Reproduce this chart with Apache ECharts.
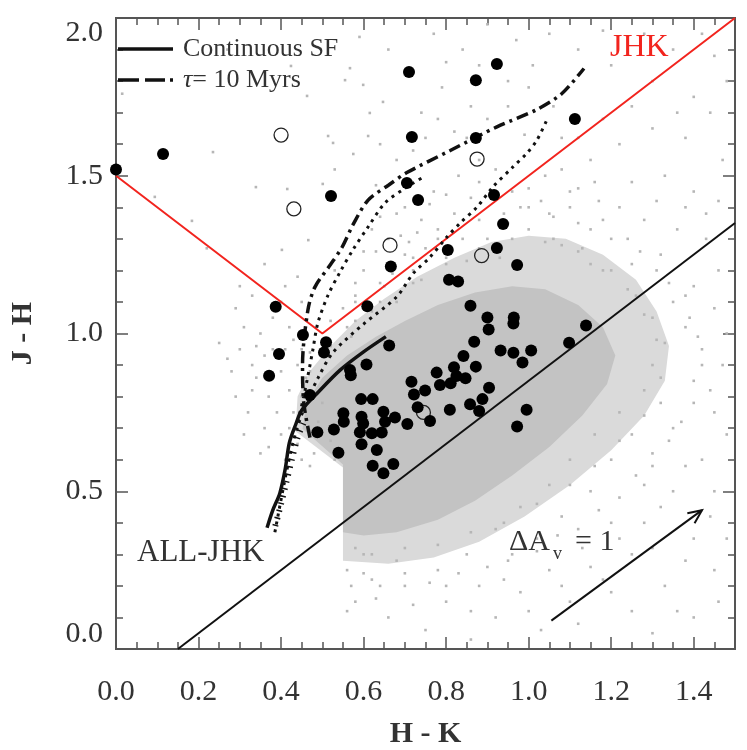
<!DOCTYPE html>
<html>
<head>
<meta charset="utf-8">
<title>J - H vs H - K</title>
<script src="https://cdn.jsdelivr.net/npm/echarts@6/dist/echarts.min.js"></script>
<style>
  html, body { margin: 0; padding: 0; background: #ffffff; }
  #chart { width: 747px; height: 750px; }
</style>
</head>
<body>
<div id="chart"></div>
<script>
// ---- data (H-K, J-H) ----

// tick labels
const xTickLabels = ['0.0', '0.2', '0.4', '0.6', '0.8', '1.0', '1.2', '1.4'];
const yTickLabels = ['0.0', '0.5', '1.0', '1.5', '2.0'];

// filled circles
const filledStars = [
  [0.0, 1.52], [0.114, 1.569], [0.521, 1.436], [0.71, 1.829], [0.923, 1.854], [0.872, 1.803],
  [1.112, 1.68], [0.717, 1.623], [0.872, 1.62], [0.705, 1.477], [0.732, 1.423], [0.916, 1.439],
  [0.938, 1.347], [0.804, 1.265], [0.923, 1.271], [0.972, 1.217], [0.666, 1.212], [0.609, 1.086],
  [0.807, 1.17], [0.829, 1.165], [0.859, 1.088], [0.9, 1.051], [0.964, 1.051], [0.963, 1.032],
  [0.903, 1.013], [1.139, 1.025], [1.098, 0.971], [0.387, 1.085], [0.395, 0.935], [0.371, 0.866],
  [0.453, 0.995], [0.509, 0.972], [0.504, 0.94], [0.662, 0.962], [0.607, 0.902], [0.567, 0.884],
  [0.569, 0.868], [0.47, 0.805], [0.594, 0.792], [0.622, 0.792], [0.551, 0.747], [0.552, 0.72],
  [0.595, 0.736], [0.599, 0.715], [0.648, 0.752], [0.652, 0.72], [0.676, 0.734], [0.488, 0.687],
  [0.528, 0.696], [0.591, 0.687], [0.62, 0.684], [0.644, 0.686], [0.706, 0.713], [0.595, 0.649],
  [0.539, 0.622], [0.632, 0.631], [0.622, 0.581], [0.672, 0.586], [0.648, 0.557], [0.716, 0.847],
  [0.722, 0.807], [0.749, 0.819], [0.731, 0.766], [0.761, 0.723], [0.777, 0.876], [0.785, 0.837],
  [0.819, 0.893], [0.842, 0.929], [0.811, 0.842], [0.825, 0.865], [0.847, 0.858], [0.872, 0.895],
  [0.868, 0.974], [0.932, 0.946], [0.963, 0.939], [1.006, 0.946], [0.985, 0.908], [0.904, 0.828],
  [0.888, 0.792], [0.858, 0.776], [0.88, 0.754], [0.809, 0.758], [0.995, 0.758], [0.972, 0.705]
];

// open circles
const openStars = [
  [0.4, 1.629], [0.431, 1.395], [0.875, 1.553], [0.664, 1.28], [0.886, 1.247], [0.745, 0.75]
];

// field stars: outline of the solid core of the cloud, of its speckled rim, and the scattered outliers
const fieldCore = [
  [0.55, 0.37], [0.55, 0.585], [0.452, 0.698], [0.462, 0.78], [0.5, 0.86], [0.56, 0.93],
  [0.63, 0.99], [0.7, 1.04], [0.78, 1.09], [0.87, 1.13], [0.96, 1.15], [1.04, 1.14],
  [1.12, 1.09], [1.18, 1.02], [1.21, 0.93], [1.19, 0.84], [1.13, 0.74], [1.05, 0.64],
  [0.96, 0.55], [0.87, 0.47], [0.78, 0.41], [0.68, 0.37], [0.6, 0.36]
];
const fieldRim = [
  [0.55, 0.28], [0.55, 0.575], [0.435, 0.69], [0.44, 0.8], [0.47, 0.88], [0.52, 0.96],
  [0.58, 1.04], [0.65, 1.11], [0.73, 1.18], [0.82, 1.24], [0.91, 1.29], [1.0, 1.31],
  [1.09, 1.3], [1.18, 1.25], [1.26, 1.17], [1.31, 1.07], [1.34, 0.96], [1.33, 0.85],
  [1.28, 0.74], [1.2, 0.63], [1.1, 0.52], [0.99, 0.42], [0.88, 0.34], [0.77, 0.29],
  [0.66, 0.27]
];
const fieldSparse = [
  // above the red boundary, left
  [0.015, 1.76], [0.235, 1.575], [0.184, 1.357], [0.094, 1.433], [0.339, 1.464], [0.415, 1.458],
  [0.463, 1.753], [0.424, 1.848], [0.402, 1.265], [0.466, 1.296], [0.27, 1.9], [0.36, 1.22],
  [0.3, 1.15], [0.44, 1.18], [0.22, 1.27],
  // inside the V, top
  [0.514, 1.626], [0.526, 1.604], [0.567, 1.841], [0.615, 1.699], [0.611, 1.626], [0.575, 1.569],
  [0.501, 1.474], [0.555, 1.803], [0.599, 1.788], [0.647, 1.734], [0.66, 1.9], [0.68, 1.55],
  [0.74, 1.7], [0.77, 1.95], [0.79, 1.78], [0.82, 1.64], [0.84, 1.9], [0.86, 1.72],
  [0.95, 1.8], [0.97, 1.93], [0.99, 1.63], [1.01, 1.85], [1.05, 1.95], [1.08, 1.62],
  [1.12, 1.9], [1.18, 1.96], [0.75, 1.62], [0.9, 1.98], [0.63, 1.47], [0.7, 1.82],
  [0.53, 1.52], [0.59, 1.94], [0.64, 1.6], [0.72, 1.58], [0.78, 1.68], [0.85, 1.62],
  [0.9, 1.68], [0.95, 1.72], [1.0, 1.78], [1.06, 1.72], [0.88, 1.85], [0.8, 1.86],
  // between the tracks and the red right arm
  [0.62, 1.33], [0.68, 1.38], [0.7, 1.25], [0.73, 1.32], [0.76, 1.41], [0.78, 1.3],
  [0.82, 1.38], [0.6, 1.2], [0.65, 1.15], [0.72, 1.2], [0.58, 1.1], [0.77, 1.45],
  [0.56, 1.02], [0.63, 1.26], [0.69, 1.31], [0.75, 1.27], [0.53, 1.2], [0.55, 1.08],
  [0.6, 1.26], [0.64, 1.37], [0.66, 1.3], [0.7, 1.4], [0.74, 1.36], [0.8, 1.44],
  [0.83, 1.5], [0.86, 1.43], [0.88, 1.55], [0.58, 1.16], [0.67, 1.19], [0.71, 1.29],
  // right of the red arm
  [1.2, 1.85], [1.25, 1.72], [1.3, 1.8], [1.35, 1.9], [1.4, 1.75], [1.45, 1.88],
  [1.15, 1.55], [1.22, 1.6], [1.3, 1.65], [1.38, 1.62], [1.44, 1.7], [1.47, 1.55],
  [1.1, 1.45], [1.17, 1.42], [1.25, 1.48], [1.33, 1.5], [1.4, 1.45], [1.46, 1.42],
  [1.05, 1.38], [1.12, 1.35], [1.2, 1.3], [1.28, 1.36], [1.36, 1.33], [1.43, 1.3],
  [1.0, 1.33], [1.08, 1.28], [1.15, 1.22], [1.25, 1.22], [1.32, 1.25], [0.98, 1.4],
  [1.04, 1.5], [1.18, 1.68], [1.28, 1.95], [1.42, 1.95], [1.36, 1.7], [1.12, 1.62],
  [1.48, 1.8], [0.95, 1.35], [1.03, 1.42], [1.22, 1.4], [1.16, 1.48], [1.08, 1.52],
  [1.12, 1.46], [1.0, 1.46], [0.96, 1.45], [0.92, 1.52], [0.88, 1.48], [1.31, 1.42],
  [1.38, 1.4], [1.43, 1.38], [1.46, 1.2], [1.48, 1.0],
  // edge of the cloud
  [0.5, 0.98], [0.52, 1.04], [0.58, 1.12], [0.64, 1.16], [0.66, 1.22], [0.72, 1.24],
  [0.78, 1.33], [0.84, 1.3], [0.88, 1.36], [0.94, 1.38], [1.0, 1.4], [1.06, 1.37],
  [1.1, 1.4], [1.15, 1.33], [1.18, 1.36], [1.24, 1.3], [1.27, 1.26], [1.31, 1.2],
  [1.34, 1.16], [1.38, 1.12], [1.39, 1.05], [1.41, 0.99], [1.42, 0.9], [1.44, 0.82],
  [1.4, 0.78], [1.37, 0.72], [1.34, 0.66], [1.3, 0.58], [1.26, 0.55], [1.22, 0.48],
  [1.17, 0.44], [1.12, 0.38], [1.07, 0.36], [1.02, 0.31], [0.96, 0.3], [0.9, 0.26],
  [0.83, 0.24], [0.76, 0.21], [0.7, 0.24], [0.64, 0.2], [0.6, 0.24], [0.57, 0.2],
  [0.9, 1.3], [0.93, 1.24], [0.85, 1.23], [0.8, 1.24], [0.74, 1.17], [0.68, 1.1],
  [0.62, 1.07], [0.57, 0.99], [1.06, 1.3], [1.13, 1.27], [1.2, 1.2], [1.26, 1.12],
  [1.3, 1.05], [1.33, 0.97], [1.3, 0.9], [1.35, 1.1], [1.4, 1.15], [1.38, 1.02],
  [1.42, 0.95], [1.45, 1.08], [1.28, 0.82], [1.22, 0.75], [1.32, 0.78], [1.4, 0.85],
  [1.47, 0.9], [1.16, 0.68], [1.25, 0.68], [1.35, 0.7], [1.1, 0.6], [1.2, 0.6],
  [1.3, 0.62], [1.45, 0.75], [1.05, 0.52], [1.15, 0.5], [1.28, 0.52], [1.38, 0.58],
  [0.58, 0.32], [0.62, 0.3], [0.7, 0.32], [0.78, 0.33], [0.86, 0.37], [0.94, 0.4],
  [1.02, 0.46], [1.1, 0.52], [1.16, 0.58], [1.22, 0.66], [1.28, 0.74], [1.32, 0.86],
  [1.31, 0.98], [1.28, 1.06], [1.24, 1.14], [1.18, 1.2], [1.12, 1.26], [1.04, 1.29],
  [0.96, 1.3], [0.88, 1.27], [0.8, 1.22], [0.72, 1.16], [0.64, 1.1], [0.58, 1.04],
  [0.52, 0.96], [0.47, 0.88], [0.45, 0.8],
  // below the cloud
  [0.98, 0.45], [1.08, 0.42], [1.2, 0.4], [1.32, 0.45], [1.45, 0.5], [0.92, 0.38],
  [1.02, 0.35], [1.13, 0.32], [1.25, 0.3], [1.4, 0.35], [0.85, 0.3], [0.95, 0.28],
  [1.05, 0.25], [1.18, 0.22], [1.33, 0.2], [1.45, 0.25], [0.78, 0.25], [0.88, 0.2],
  [0.98, 0.18], [1.1, 0.15], [1.25, 0.12], [1.4, 0.1], [0.7, 0.2], [0.8, 0.15],
  [0.92, 0.1], [1.03, 0.06], [1.3, 0.05], [1.46, 0.15], [0.62, 0.22], [0.58, 0.15],
  [0.66, 0.1], [0.75, 0.06], [0.86, 0.03], [0.6, 0.3], [0.68, 0.28], [0.56, 0.25],
  [0.56, 0.12], [0.63, 0.16], [0.72, 0.14], [0.8, 0.2], [0.86, 0.12], [0.94, 0.22],
  [1.0, 0.12], [1.08, 0.2], [1.15, 0.26], [1.22, 0.35], [1.28, 0.4], [1.35, 0.5],
  [1.42, 0.6], [1.48, 0.68], [1.44, 0.42], [1.38, 0.28], [1.3, 0.32], [1.2, 0.18],
  [1.12, 0.08], [1.36, 0.12], [1.48, 0.35],
  // left of the continuous SF track
  [0.3, 0.95], [0.33, 0.9], [0.35, 1.0], [0.38, 0.95], [0.4, 0.88], [0.42, 0.82],
  [0.37, 0.8], [0.33, 0.82], [0.42, 1.02], [0.44, 0.9], [0.46, 0.86], [0.39, 0.75],
  [0.43, 0.75], [0.36, 0.7], [0.4, 0.68], [0.28, 0.88], [0.32, 0.75], [0.45, 1.1],
  [0.41, 1.15], [0.47, 0.94], [0.25, 0.97], [0.35, 0.62], [0.31, 0.68], [0.38, 1.05],
  [0.44, 0.65], [0.5, 0.78], [0.49, 0.72], [0.52, 0.66], [0.48, 0.62], [0.53, 0.6],
  [0.27, 0.92], [0.29, 0.8], [0.31, 1.02], [0.34, 0.86], [0.36, 0.93], [0.37, 0.64],
  [0.38, 0.86], [0.41, 0.95], [0.43, 0.98], [0.34, 0.96], [0.29, 1.08], [0.33, 1.12],
  [0.4, 1.1], [0.45, 0.95], [0.42, 0.7], [0.41, 0.6], [0.45, 0.6], [0.47, 0.58]
];

// JHK excess boundary (red) and the ALL-JHK reddening line
const jhkBoundary = [[0.0, 1.5], [0.5, 1.0], [1.5, 2.0]];
const allJhkLine = [[0.15, 0.0], [1.5, 1.35]];

// model tracks
const continuousSF = [
  [0.366, 0.384], [0.38, 0.44], [0.397, 0.494], [0.41, 0.57], [0.42, 0.653], [0.435, 0.71],
  [0.45, 0.757], [0.487, 0.81], [0.543, 0.884], [0.599, 0.941], [0.654, 0.99]
];
const continuousSFHatch = [
  [0.386, 0.39], [0.4, 0.46], [0.413, 0.53], [0.426, 0.6], [0.44, 0.67], [0.456, 0.72]
];
const tau10Myr = [
  [0.47, 0.67], [0.455, 0.78], [0.452, 0.9], [0.465, 1.074], [0.482, 1.147], [0.519, 1.217],
  [0.548, 1.274], [0.574, 1.344], [0.611, 1.423], [0.66, 1.47], [0.705, 1.51], [0.81, 1.58],
  [0.923, 1.655], [1.02, 1.71], [1.08, 1.76], [1.134, 1.84]
];
const dottedTrackA = [
  [0.44, 0.72], [0.455, 0.8], [0.477, 0.948], [0.489, 1.033], [0.514, 1.122], [0.543, 1.195],
  [0.574, 1.265], [0.611, 1.338], [0.652, 1.414], [0.7, 1.46], [0.75, 1.5]
];
const dottedTrackB = [
  [0.385, 0.37], [0.398, 0.46], [0.413, 0.56], [0.43, 0.66], [0.455, 0.76], [0.49, 0.86],
  [0.526, 0.94], [0.6, 1.03], [0.68, 1.116], [0.72, 1.19], [0.761, 1.242], [0.802, 1.306],
  [0.834, 1.35], [0.875, 1.401], [0.913, 1.464], [0.962, 1.528], [0.996, 1.572], [1.02, 1.613],
  [1.044, 1.677]
];

// extinction vector, Delta Av = 1
const avArrowHK = [1.055, 1.42];
const avArrowJH = [0.09, 0.44];

// ---- styling ----
const SERIF = '"Liberation Serif", "DejaVu Serif", serif';
const FRAME = '#555555';
const TEXT = '#333333';
const RED = '#f2241e';

function xAxisDef(position, interval, tickLen, withLabels) {
    const axis = {
        type: 'value', min: 0, max: 1.5, interval: interval, position: position,
        axisLine: { show: true, onZero: false, lineStyle: { color: FRAME, width: 2 } },
        axisTick: { show: true, inside: true, length: tickLen, lineStyle: { color: FRAME, width: 1.5 } },
        axisLabel: { show: false },
        splitLine: { show: false }
    };
    if (withLabels) {
        axis.axisLabel = {
            show: true, margin: 28, color: TEXT, fontSize: 30, fontFamily: SERIF,
            showMaxLabel: false,
            formatter: function (v) { return xTickLabels[Math.round(v / 0.2)] || ''; }
        };
        axis.name = 'H - K';
        axis.nameLocation = 'middle';
        axis.nameGap = 70;
        axis.nameTextStyle = { color: TEXT, fontSize: 30, fontWeight: 'bold', fontFamily: SERIF };
    }
    return axis;
}

function yAxisDef(position, interval, tickLen, withLabels) {
    const axis = {
        type: 'value', min: 0, max: 2.0, interval: interval, position: position,
        axisLine: { show: true, onZero: false, lineStyle: { color: FRAME, width: 2 } },
        axisTick: { show: true, inside: true, length: tickLen, lineStyle: { color: FRAME, width: 1.5 } },
        axisLabel: { show: false },
        splitLine: { show: false }
    };
    if (withLabels) {
        axis.axisLabel = {
            show: true, margin: 13, color: TEXT, fontSize: 30, fontFamily: SERIF,
            verticalAlignMinLabel: 'bottom', verticalAlignMaxLabel: 'top',
            formatter: function (v) { return yTickLabels[Math.round(v / 0.5)] || ''; }
        };
        axis.name = 'J - H';
        axis.nameLocation = 'middle';
        axis.nameGap = 78;
        axis.nameTextStyle = { color: TEXT, fontSize: 30, fontWeight: 'bold', fontFamily: SERIF };
    }
    return axis;
}

function regionSeries(outline, color, z) {
    return {
        type: 'custom', silent: true, z: z, clip: true,
        data: [[0, 0]],
        renderItem: function (params, api) {
            return {
                type: 'polygon',
                shape: { points: outline.map(function (p) { return api.coord(p); }) },
                style: { fill: color }
            };
        }
    };
}

function trackSeries(points, lineStyle, z, smooth) {
    return {
        type: 'line', data: points, z: z, silent: true,
        symbol: 'none', smooth: smooth || false,
        lineStyle: lineStyle
    };
}

function arrowSeries() {
    return {
        type: 'custom', silent: true, z: 5, clip: false,
        data: [[avArrowHK[0], avArrowJH[0]]],
        renderItem: function (params, api) {
            const a = api.coord([avArrowHK[0], avArrowJH[0]]);
            const b = api.coord([avArrowHK[1], avArrowJH[1]]);
            const ang = Math.atan2(b[1] - a[1], b[0] - a[0]);
            const len = 15, spread = 0.42;
            const h1 = [b[0] - len * Math.cos(ang - spread), b[1] - len * Math.sin(ang - spread)];
            const h2 = [b[0] - len * Math.cos(ang + spread), b[1] - len * Math.sin(ang + spread)];
            return {
                type: 'group',
                children: [
                    { type: 'line', shape: { x1: a[0], y1: a[1], x2: b[0], y2: b[1] },
                      style: { stroke: '#111', lineWidth: 2 } },
                    { type: 'polyline', shape: { points: [h1, b, h2] },
                      style: { stroke: '#111', lineWidth: 2, fill: null } }
                ]
            };
        }
    };
}

function textEl(x, y, text, size, color, extra) {
    const style = {
        text: text, x: 0, y: 0, fill: color,
        font: size + 'px ' + SERIF,
        align: 'left', verticalAlign: 'middle',
        textAlign: 'left', textVerticalAlign: 'middle'
    };
    if (extra && extra.rich) style.rich = extra.rich;
    return { type: 'text', x: x, y: y, z: 20, silent: true, style: style };
}

function initChart() {
    const chart = echarts.init(document.getElementById('chart'), null, { renderer: 'canvas' });

    const option = {
        animation: false,
        backgroundColor: '#ffffff',
        grid: { left: 116, right: 12, top: 18, bottom: 101, containLabel: false, outerBoundsMode: 'none' },
        xAxis: [
            xAxisDef('bottom', 0.2, 12, true),
            xAxisDef('bottom', 0.05, 7, false),
            xAxisDef('top', 0.2, 12, false),
            xAxisDef('top', 0.05, 7, false)
        ],
        yAxis: [
            yAxisDef('left', 0.5, 12, true),
            yAxisDef('left', 0.1, 7, false),
            yAxisDef('right', 0.5, 12, false),
            yAxisDef('right', 0.1, 7, false)
        ],
        series: [
            regionSeries(fieldRim, '#dadada', 1),
            regionSeries(fieldCore, '#c3c3c3', 1),
            {
                type: 'scatter', data: fieldSparse, z: 2, silent: true,
                symbol: 'rect', symbolSize: 2.6,
                itemStyle: { color: '#b6b6b6', opacity: 1 }
            },
            trackSeries(jhkBoundary, { color: RED, width: 2 }, 3),
            trackSeries(allJhkLine, { color: '#111', width: 2 }, 3),
            trackSeries(dottedTrackB, { color: '#111', width: 3, type: [3, 5] }, 4, 0.3),
            trackSeries(dottedTrackA, { color: '#111', width: 3, type: [3, 5] }, 4, 0.3),
            trackSeries(tau10Myr, { color: '#111', width: 3.5, type: [12, 5, 3, 5] }, 4, 0.3),
            trackSeries(continuousSFHatch, { color: '#111', width: 6, type: [1.5, 6] }, 4, 0.3),
            trackSeries(continuousSF, { color: '#111', width: 3.5 }, 4, 0.3),
            arrowSeries(),
            {
                type: 'scatter', data: openStars, z: 6, silent: true,
                symbol: 'circle', symbolSize: 14,
                itemStyle: { color: 'rgba(0,0,0,0)', borderColor: '#222', borderWidth: 1.3, opacity: 1 }
            },
            {
                type: 'scatter', data: filledStars, z: 7, silent: true,
                symbol: 'circle', symbolSize: 12,
                itemStyle: { color: '#000000', opacity: 1 }
            }
        ],
        graphic: {
            elements: [
                // legend samples
                { type: 'line', z: 20, silent: true, shape: { x1: 118, y1: 49, x2: 173, y2: 49 },
                  style: { stroke: '#111', lineWidth: 3.5 } },
                { type: 'line', z: 20, silent: true, shape: { x1: 118, y1: 80, x2: 173, y2: 80 },
                  style: { stroke: '#111', lineWidth: 3.5, lineDash: [21, 6, 20, 5, 3, 200] } },
                textEl(183, 49, 'Continuous SF', 26, TEXT),
                textEl(183, 80, '{i|τ}= 10 Myrs', 26, TEXT,
                       { rich: { i: { fontStyle: 'italic', fontSize: 26, fontFamily: SERIF, fill: TEXT, color: TEXT } } }),
                // annotations
                textEl(610, 48, 'JHK', 32, RED),
                textEl(137, 553, 'ALL-JHK', 31, TEXT),
                textEl(509, 542, 'ΔA', 30, TEXT),
                textEl(553, 554, 'v', 18, TEXT),
                textEl(575, 542, '= 1', 30, TEXT)
            ]
        }
    };

    chart.setOption(option);
}

document.addEventListener('DOMContentLoaded', initChart);
</script>
</body>
</html>
